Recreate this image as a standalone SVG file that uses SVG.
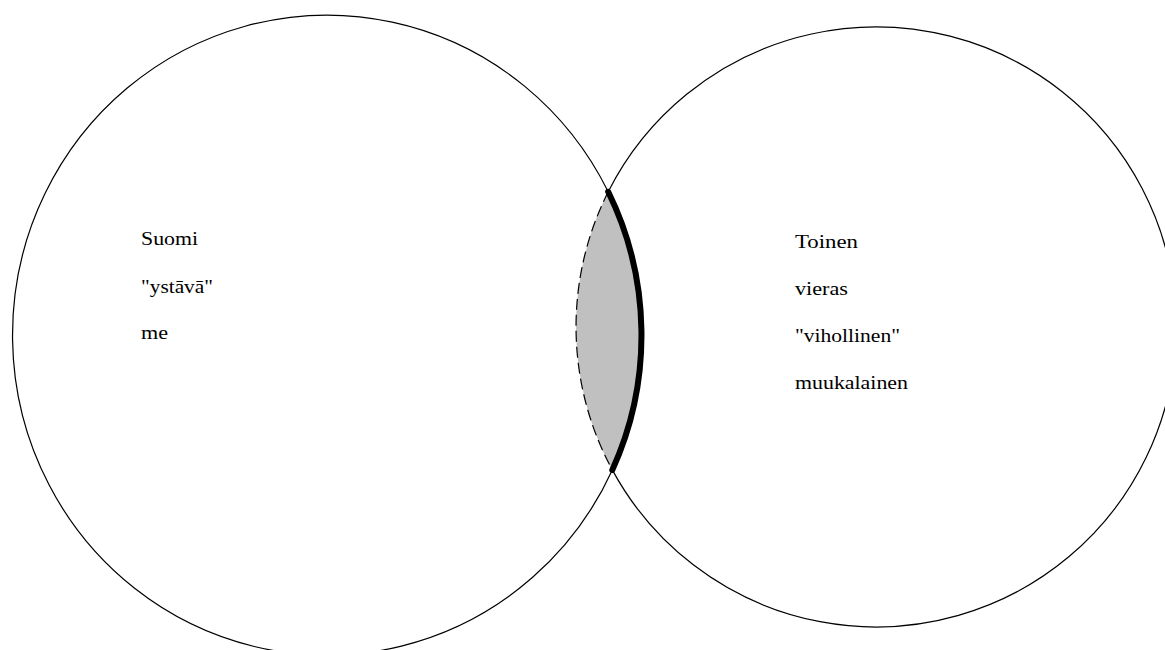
<svg xmlns="http://www.w3.org/2000/svg" width="1165" height="650" viewBox="0 0 1165 650">
  <style>
    .outline { fill: none; stroke: #000; stroke-width: 1.2; }
    .dashed { fill: none; stroke: #000; stroke-width: 1.2; stroke-dasharray: 11 5; }
    .thick { fill: none; stroke: #000; stroke-width: 6; stroke-linecap: round; }
    .lens { fill: #c0c0c0; stroke: none; }
    .label { font-family: "Liberation Serif", "Times New Roman", serif; font-size: 19px; fill: #000; }
  </style>
  <rect x="0" y="0" width="1165" height="650" fill="#fff"/>
  <g id="overlap">
    <path class="lens" d="M608.2,191.8 A300,300 0 0 0 612.3,469.9 A314.5,320 0 0 0 608.2,191.8 Z"/>
    <path class="dashed" d="M608.2,191.8 A300,300 0 0 0 612.3,469.9"/>
    <path class="thick" d="M608.2,191.8 A316,321 0 0 1 612.3,469.9"/>
  </g>
  <g id="suomi">
    <path class="outline" d="M608.2,191.8 A314.5,320 0 1 0 612.3,469.9"/>
    <text class="label" x="141" y="245" textLength="57" lengthAdjust="spacingAndGlyphs">Suomi</text>
    <text class="label" x="141" y="293" textLength="72" lengthAdjust="spacingAndGlyphs">"ystāvā"</text>
    <text class="label" x="141" y="339" textLength="27" lengthAdjust="spacingAndGlyphs">me</text>
  </g>
  <g id="toinen">
    <path class="outline" d="M608.2,191.8 A300,300 0 1 1 612.3,469.9"/>
    <text class="label" x="795" y="248" textLength="63" lengthAdjust="spacingAndGlyphs">Toinen</text>
    <text class="label" x="795" y="295" textLength="53" lengthAdjust="spacingAndGlyphs">vieras</text>
    <text class="label" x="795" y="342" textLength="105" lengthAdjust="spacingAndGlyphs">"vihollinen"</text>
    <text class="label" x="795" y="389" textLength="113" lengthAdjust="spacingAndGlyphs">muukalainen</text>
  </g>
  <g id="connectors"></g>
</svg>
